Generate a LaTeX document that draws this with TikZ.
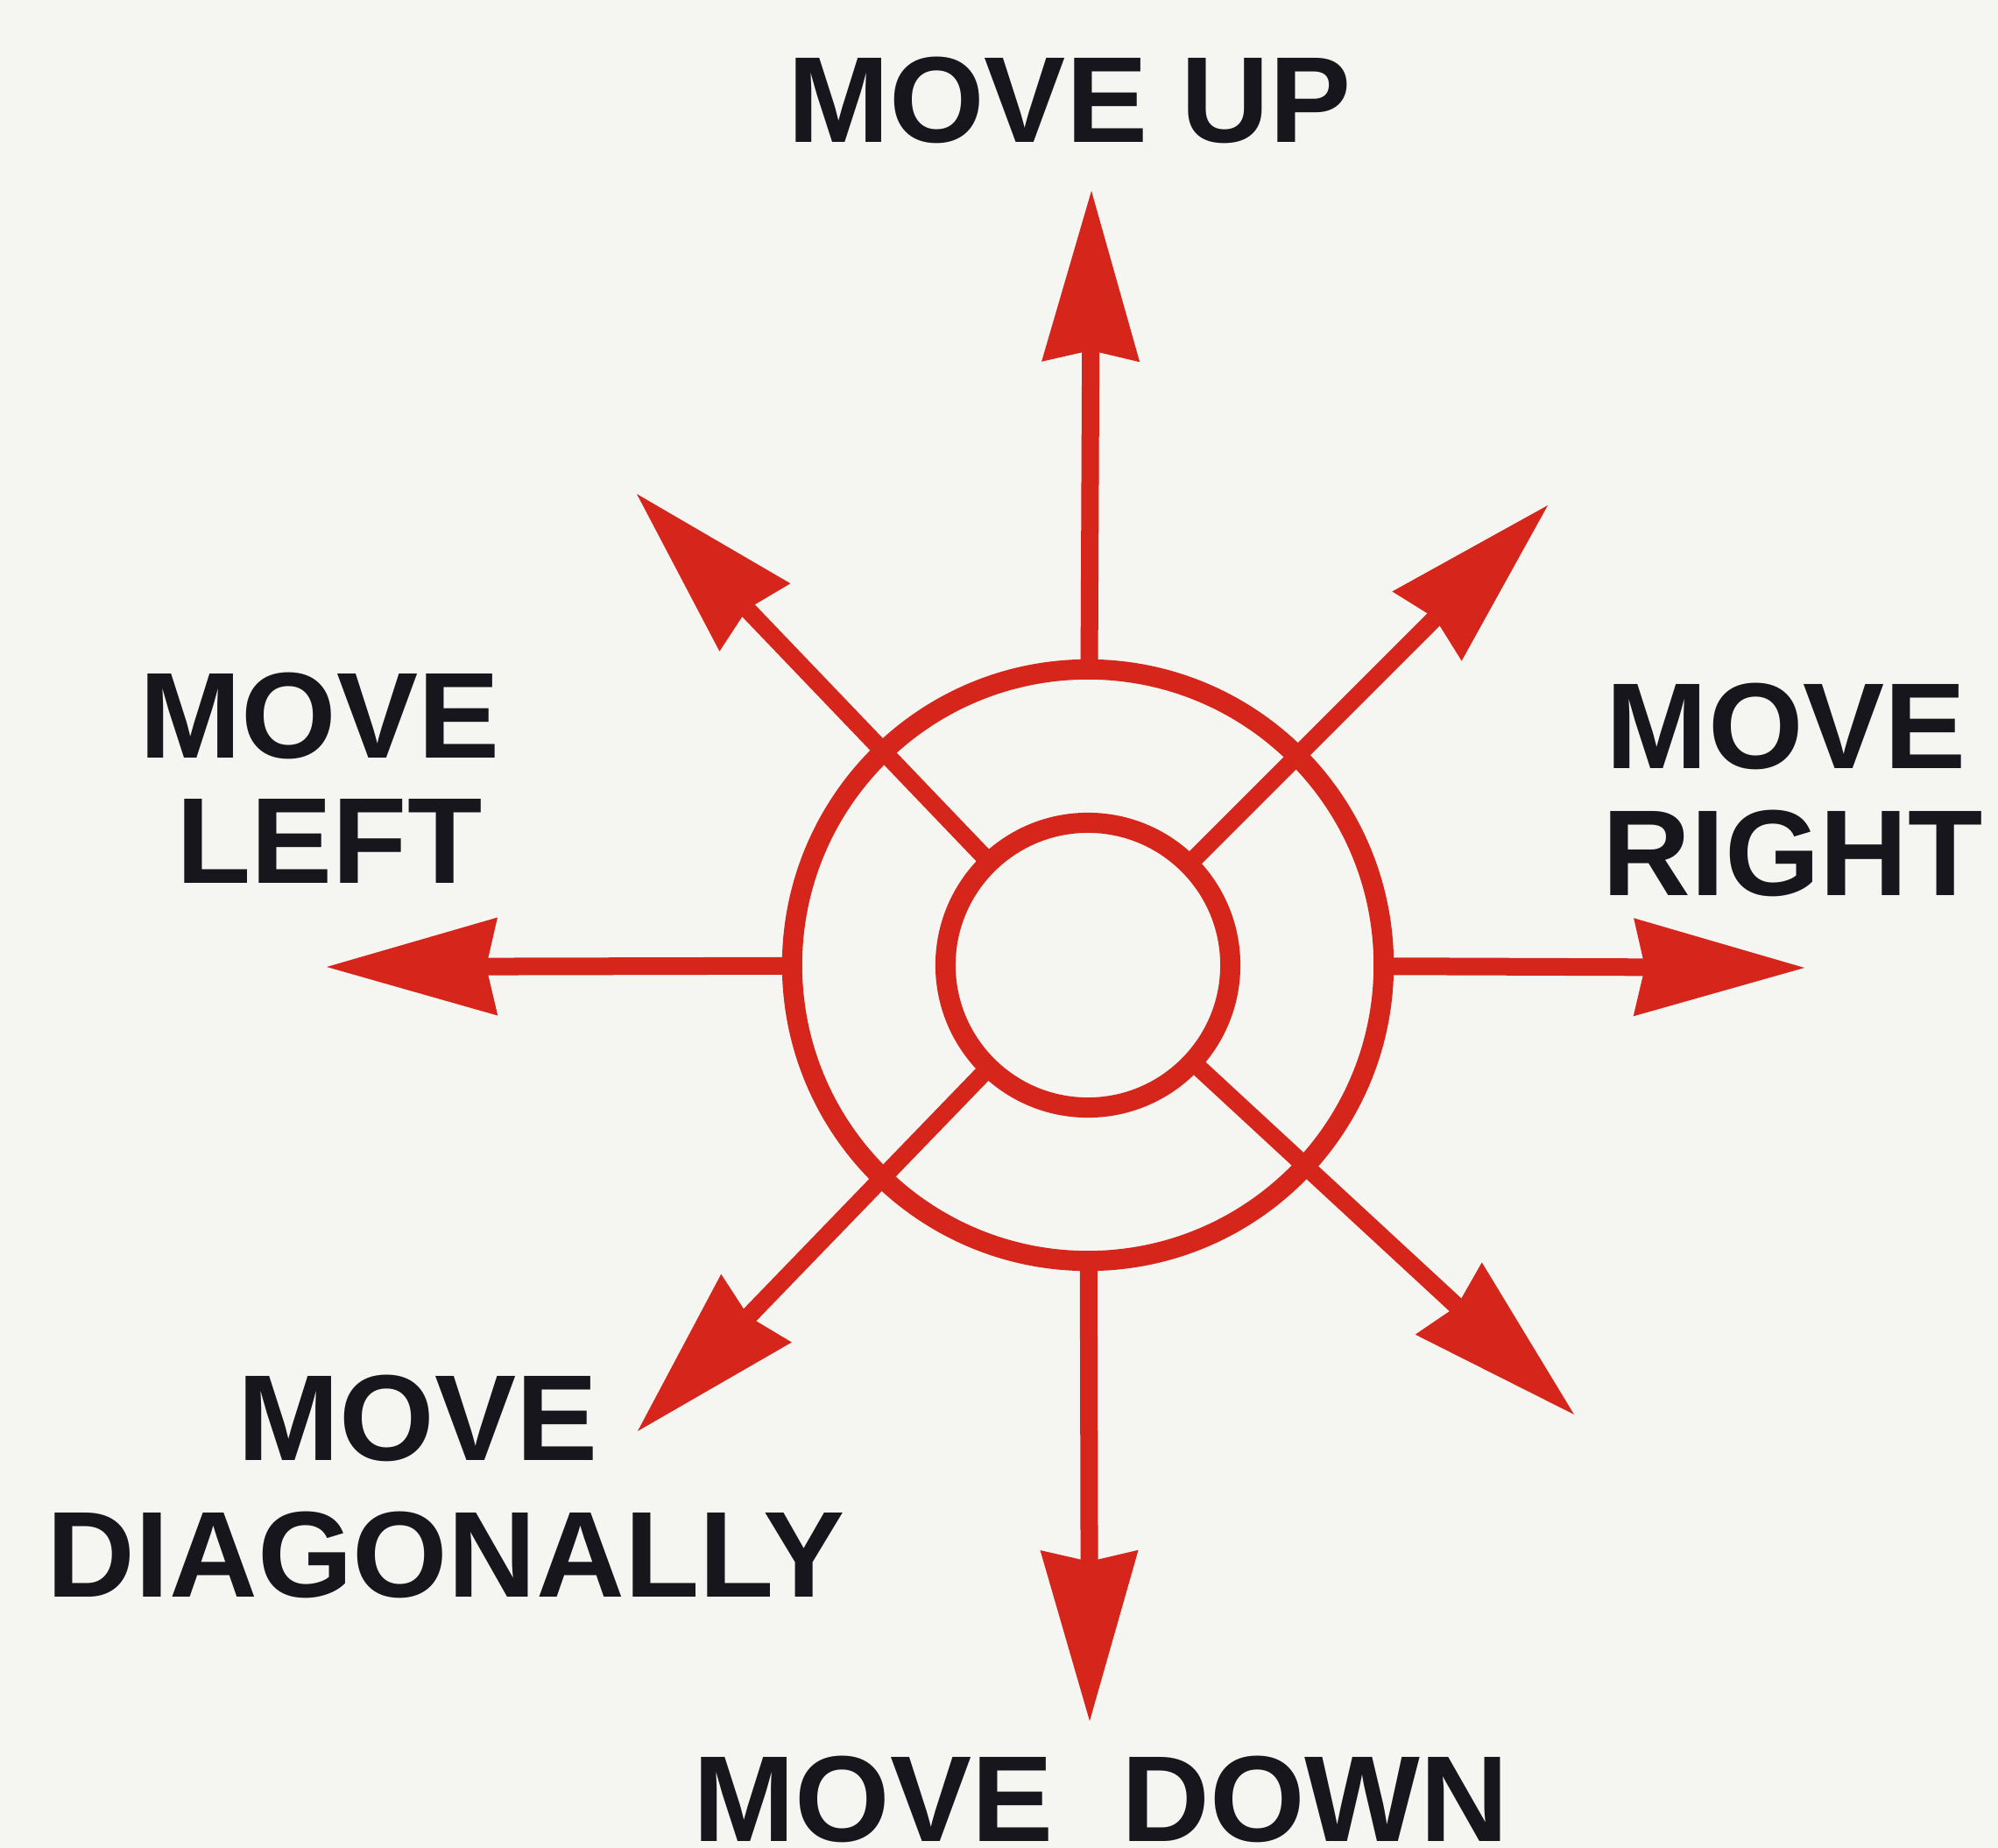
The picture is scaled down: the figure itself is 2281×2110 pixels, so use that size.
\documentclass[tikz,border=0pt]{standalone}
\usepackage{fontspec}
\setmainfont{Liberation Sans}
\usetikzlibrary{arrows.meta}
\definecolor{pagebg}{RGB}{245,245,242}
\definecolor{arrowred}{RGB}{214,38,28}
\definecolor{ink}{RGB}{22,22,28}
\begin{document}
\begin{tikzpicture}[x=0.01cm,y=-0.01cm,
  ring/.style={circle, draw=arrowred, line width=0.23cm, inner sep=0pt, outer sep=0pt},
  ray/.style={draw=arrowred, line width=0.2cm,
    -{Stealth[length=1.95cm,width=1.12cm,inset=0.13cm,line width=0pt]}},
  lab/.style={font=\fontsize{39.7pt}{41pt}\selectfont\bfseries, text=ink, inner sep=0pt, anchor=base}]
\fill[pagebg] (0,0) rectangle (2281,2110);
\useasboundingbox (0,0) rectangle (2281,2110);

\node[ring, minimum size=6.75cm] (outer) at (1242,1102) {};
\node[ring, minimum size=3.25cm] (inner) at (1242,1102) {};

\coordinate (tUp) at (1246,218);
\coordinate (tDown) at (1244,1965);
\coordinate (tLeft) at (373,1104);
\coordinate (tRight) at (2060,1105);
\coordinate (tNE) at (1767,577);
\coordinate (tNW) at (727,564);
\coordinate (tSW) at (728,1634);
\coordinate (tSE) at (1797,1615);

\draw[ray] (outer) -- (tUp);
\draw[ray] (outer) -- (tDown);
\draw[ray] (outer) -- (tLeft);
\draw[ray] (outer) -- (tRight);
\draw[ray] (inner) -- (tNE);
\draw[ray] (inner) -- (tNW);
\draw[ray] (inner) -- (tSW);
\draw[ray] (inner) -- (tSE);

\node[lab] (lUp) at (1221,163) {MOVE UP};
\node[lab] (lLeftA) at (365,866) {MOVE};
\node[lab] (lLeftB) at (376,1009) {LEFT};
\node[lab, anchor=base west] (lRightA) at (1833,878) {MOVE};
\node[lab, anchor=base west] (lRightB) at (1829,1023) {RIGHT};
\node[lab] (lDiagA) at (477,1667) {MOVE};
\node[lab] (lDiagB) at (509,1823) {DIAGONALLY};
\node[lab, text depth=0pt] (lDown) at (1257,2102) {MOVE\ \ DOWN};
\end{tikzpicture}
\end{document}
